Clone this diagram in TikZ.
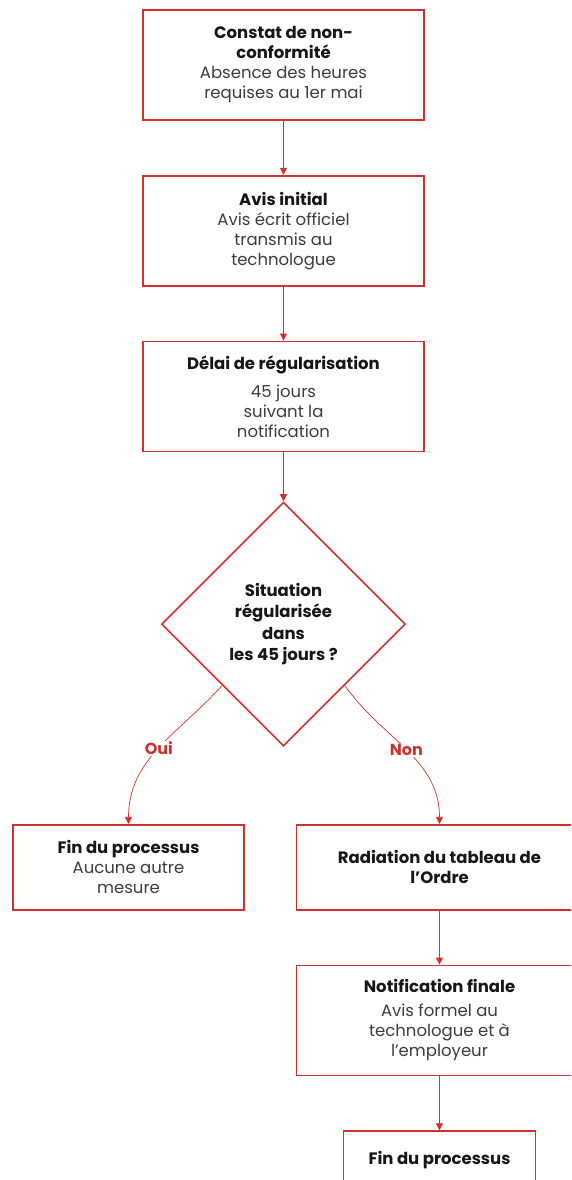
\documentclass[tikz,border=0pt]{standalone}
\usepackage{fontspec}
\setmainfont{Poppins}
\usepackage{tikz}
\usetikzlibrary{positioning,arrows.meta,shapes.geometric}

\definecolor{ordrered}{HTML}{D0312D}
\definecolor{bodygray}{HTML}{3C3C3C}
\definecolor{titleblack}{HTML}{161616}
\newcommand{\stagetitle}[1]{\textcolor{titleblack}{\bfseries #1}}

\begin{document}
\begin{tikzpicture}[
    x=1pt, y=1pt,
    ->,
    >={Stealth[inset=0pt,length=7pt,width=7pt]},
    node distance=54pt,
    box/.style={rectangle, draw=ordrered, line width=1.7pt, text=bodygray, align=center,
        font=\fontsize{16.5}{20}\selectfont, minimum width=281pt, minimum height=110pt},
    decision/.style={diamond, draw=ordrered, line width=1.7pt, aspect=1, align=center,
        font=\fontsize{16.5}{21.5}\selectfont\bfseries, text=titleblack,
        minimum width=244pt, minimum height=244pt, inner sep=0pt},
    link/.style={draw=ordrered, line width=0.7pt},
    answer/.style={text=ordrered, font=\fontsize{16}{18}\selectfont\bfseries, fill=white, inner sep=1pt},
]
    \useasboundingbox (0,0) rectangle (571,-1180);
    \clip (0,0) rectangle (571,-1180);

    \node[box] (constat) at (283.5,-65) {\stagetitle{Constat de non-}\\\stagetitle{conformité}\\Absence des heures\\requises au 1er mai};
    \node[box, below=of constat] (avis) {\stagetitle{Avis initial}\\Avis écrit officiel\\transmis au\\technologue};
    \node[box, below=of avis] (delai) {\stagetitle{Délai de régularisation}\\[8pt]45 jours\\suivant la\\notification};
    \node[decision, below=49pt of delai] (regul) {Situation\\régularisée\\dans\\les 45 jours ?};

    \node[box, below=77pt of regul, xshift=-155pt, minimum width=231pt, minimum height=85pt] (finoui) {\stagetitle{Fin du processus}\\Aucune autre\\mesure};
    \node[box, below=77pt of regul, xshift=156pt, minimum width=286pt, minimum height=85pt] (radiation) {\stagetitle{Radiation du tableau de}\\\stagetitle{l’Ordre}};
    \node[box, below=of radiation, minimum width=286pt] (notif) {\stagetitle{Notification finale}\\[4pt]Avis formel au\\technologue et à\\l’employeur};
    \node[box, below=of notif, minimum width=192pt, minimum height=57pt] (finnon) {\stagetitle{Fin du processus}};

    \path (constat) edge[link] (avis);
    \path (avis) edge[link] (delai);
    \path (delai) edge[link] (regul);
    \path (regul.south west) edge[link, out=-132, in=90] node[answer, pos=0.5] {Oui} (finoui);
    \path (regul.south east) edge[link, out=-55, in=90] node[answer, pos=0.5] {Non} (radiation);
    \path (radiation) edge[link] (notif);
    \path (notif) edge[link] (finnon);
\end{tikzpicture}
\end{document}
